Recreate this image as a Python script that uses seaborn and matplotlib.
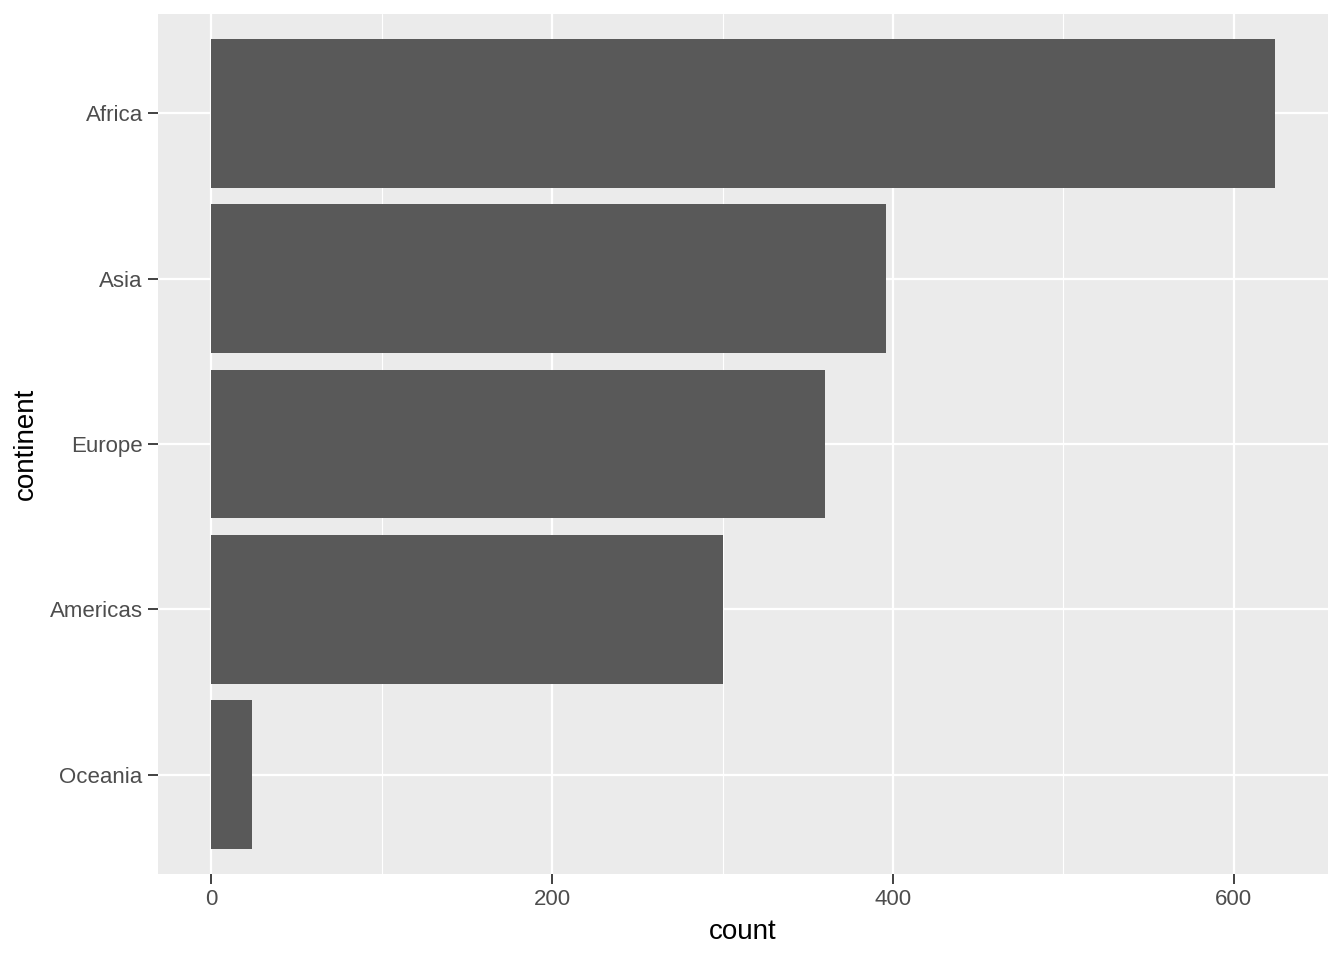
import numpy as np
import pandas as pd
import seaborn as sns
import matplotlib.pyplot as plt

# Contagem de linhas por continente (gapminder)
continents = ['Africa', 'Asia', 'Europe', 'Americas', 'Oceania']
counts = [624, 396, 360, 300, 24]

df = pd.DataFrame({'continent': continents, 'count': counts})

sns.set_style('darkgrid', {'axes.facecolor': '#EBEBEB', 'grid.color': 'white'})
plt.rcParams['font.family'] = ['Liberation Sans', 'DejaVu Sans']

fig = plt.figure(figsize=(13.44, 9.6), dpi=100)
ax = fig.add_axes([158 / 1344, 1 - 874 / 960, (1328 - 158) / 1344, (874 - 14) / 960])

sns.barplot(data=df, x='count', y='continent', orient='h', order=continents,
            color='#595959', saturation=1, width=0.9, linewidth=0, ax=ax, zorder=2)

ax.set_xlim(-31.2, 655.2)
ax.set_ylim(4.6, -0.6)
ax.set_xticks([0, 200, 400, 600])
ax.set_xticks([100, 300, 500], minor=True)
ax.grid(which='major', color='white', linewidth=1.6, zorder=0)
ax.grid(which='minor', axis='x', color='white', linewidth=0.8, zorder=0)
ax.set_axisbelow(True)
for s in ax.spines.values():
    s.set_visible(False)

ax.tick_params(axis='both', which='major', length=7, width=1.3, color='#333333',
               labelsize=16, labelcolor='#4D4D4D', pad=4, bottom=True, left=True)
ax.tick_params(axis='both', which='minor', length=0)

ax.set_xlabel('count', fontsize=20, color='black', labelpad=6)
ax.set_ylabel('continent', fontsize=20, color='black', labelpad=8)

fig.savefig('out.png', dpi=100, facecolor='white')
